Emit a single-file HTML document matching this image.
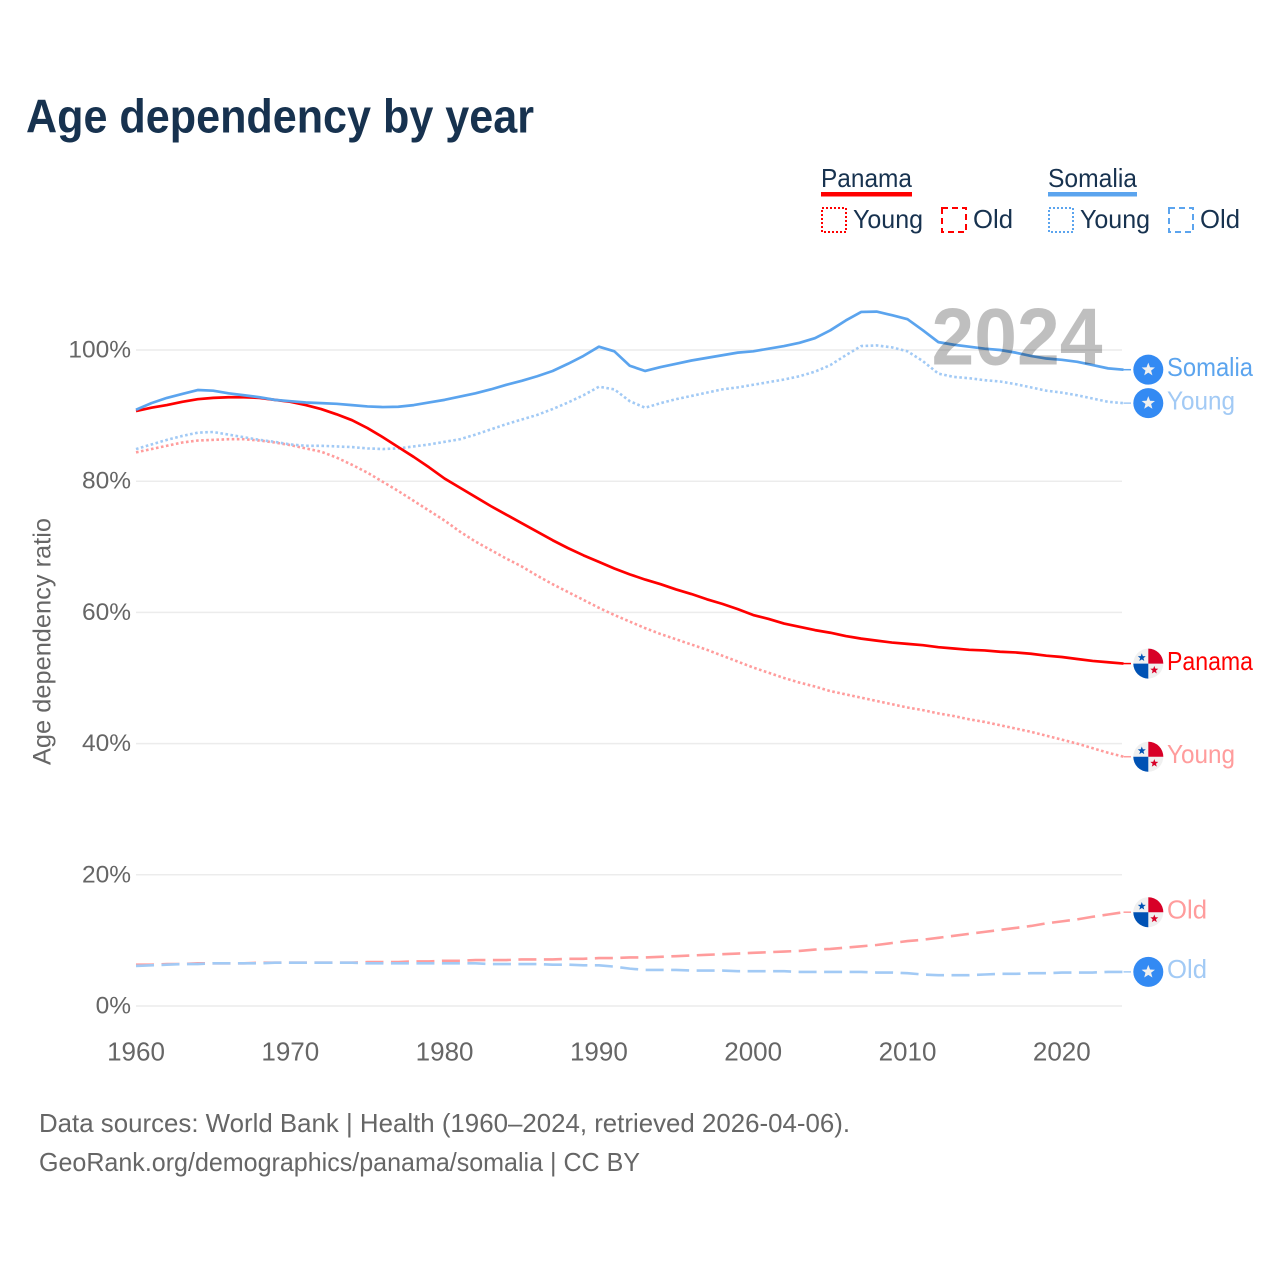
<!DOCTYPE html>
<html lang="en">
<head>
<meta charset="utf-8">
<title>Age dependency by year</title>
<style>
html,body{margin:0;padding:0;background:#fff;}
svg{display:block;font-family:"Liberation Sans",sans-serif;}
text{font-family:"Liberation Sans",sans-serif;}
</style>
</head>
<body>
<svg id="chart" width="1280" height="1280" viewBox="0 0 1280 1280" xmlns="http://www.w3.org/2000/svg">
  <rect width="1280" height="1280" fill="#ffffff"/>
  <text x="26" y="132.5" font-size="47" font-weight="700" fill="#17324f" textLength="508" lengthAdjust="spacingAndGlyphs">Age dependency by year</text>

  <g font-size="26" fill="#17324f">
    <text x="821" y="187" textLength="91" lengthAdjust="spacingAndGlyphs">Panama</text>
    <rect x="821" y="192" width="91" height="4.5" fill="#ff0000"/>
    <rect x="822" y="208" width="24" height="24" fill="none" stroke="#ff0000" stroke-width="2" stroke-dasharray="2 2"/>
    <text x="853" y="228" textLength="70" lengthAdjust="spacingAndGlyphs">Young</text>
    <rect x="942" y="208" width="24" height="24" fill="none" stroke="#ff0000" stroke-width="2" stroke-dasharray="6 4"/>
    <text x="973" y="228" textLength="40" lengthAdjust="spacingAndGlyphs">Old</text>
    <text x="1048" y="187" textLength="89" lengthAdjust="spacingAndGlyphs">Somalia</text>
    <rect x="1048" y="192" width="89" height="4.5" fill="#5ba4ee"/>
    <rect x="1049" y="208" width="24" height="24" fill="none" stroke="#5ba4ee" stroke-width="2" stroke-dasharray="2 2"/>
    <text x="1080" y="228" textLength="70" lengthAdjust="spacingAndGlyphs">Young</text>
    <rect x="1169" y="208" width="24" height="24" fill="none" stroke="#5ba4ee" stroke-width="2" stroke-dasharray="6 4"/>
    <text x="1200" y="228" textLength="40" lengthAdjust="spacingAndGlyphs">Old</text>
  </g>

  <g id="grid"></g>
  <g id="yticks" font-size="24.5" fill="#666666" text-anchor="end"></g>
  <g id="xticks" font-size="26" fill="#666666" text-anchor="middle"></g>
  <text transform="translate(50.5,641.5) rotate(-90)" font-size="25" fill="#666666" text-anchor="middle" textLength="247" lengthAdjust="spacingAndGlyphs">Age dependency ratio</text>

  <g id="series"></g>
  <text x="931.5" y="364.5" font-size="81" font-weight="700" fill="#000000" fill-opacity="0.25" textLength="171" lengthAdjust="spacingAndGlyphs">2024</text>
  <g id="ends"></g>

  <g font-size="26" fill="#666666">
    <text x="39" y="1132" textLength="811" lengthAdjust="spacingAndGlyphs">Data sources: World Bank | Health (1960–2024, retrieved 2026-04-06).</text>
    <text x="39" y="1171" textLength="601" lengthAdjust="spacingAndGlyphs">GeoRank.org/demographics/panama/somalia | CC BY</text>
  </g>
</svg>
<script>
const firstYear = 1960;
const xTicks = [1960, 1970, 1980, 1990, 2000, 2010, 2020];
const yTicks = [0, 20, 40, 60, 80, 100];

const panamaTotal = [
  90.7,91.2,91.6,92.1,92.5,92.7,92.8,92.8,92.7,92.4,
  92.1,91.6,91.0,90.2,89.3,88.1,86.7,85.2,83.7,82.1,
  80.4,79.0,77.6,76.2,74.9,73.6,72.3,71.0,69.8,68.7,
  67.7,66.7,65.8,65.0,64.3,63.5,62.8,62.0,61.3,60.5,
  59.6,59.0,58.3,57.8,57.3,56.9,56.4,56.0,55.7,55.4,
  55.2,55.0,54.7,54.5,54.3,54.2,54.0,53.9,53.7,53.4,
  53.2,52.9,52.6,52.4,52.2];
const panamaYoung = [
  84.4,84.9,85.4,85.9,86.2,86.3,86.4,86.4,86.2,85.9,
  85.5,85.0,84.5,83.6,82.5,81.3,79.9,78.5,77.0,75.5,
  74.0,72.3,70.8,69.5,68.2,67.0,65.6,64.3,63.1,61.9,
  60.7,59.6,58.6,57.6,56.7,55.9,55.1,54.3,53.4,52.5,
  51.6,50.8,50.0,49.3,48.7,48.0,47.5,47.0,46.5,46.0,
  45.5,45.1,44.6,44.2,43.7,43.3,42.8,42.3,41.8,41.2,
  40.6,40.0,39.3,38.6,38.0];
const panamaOld = [
  6.3,6.3,6.4,6.4,6.5,6.5,6.5,6.5,6.6,6.6,
  6.6,6.6,6.6,6.6,6.6,6.7,6.7,6.7,6.8,6.8,
  6.9,6.9,7.0,7.0,7.0,7.1,7.1,7.1,7.2,7.2,
  7.3,7.3,7.4,7.4,7.5,7.6,7.7,7.8,7.9,8.0,
  8.1,8.2,8.3,8.4,8.6,8.7,8.9,9.1,9.3,9.6,
  9.9,10.1,10.4,10.7,11.0,11.3,11.6,11.9,12.2,12.6,
  12.9,13.2,13.6,13.95,14.3];
const somaliaTotal = [
  90.9,91.9,92.7,93.3,93.9,93.8,93.4,93.1,92.8,92.4,
  92.2,92.0,91.9,91.8,91.6,91.4,91.3,91.35,91.6,92.0,
  92.4,92.9,93.4,94.0,94.7,95.3,96.0,96.8,97.9,99.1,
  100.5,99.8,97.6,96.8,97.4,97.9,98.4,98.8,99.2,99.6,
  99.8,100.2,100.6,101.1,101.8,103.0,104.5,105.8,105.85,105.3,
  104.7,103.0,101.2,100.8,100.5,100.2,100.0,99.6,99.1,98.7,
  98.5,98.2,97.7,97.2,97.0];
const somaliaYoung = [
  84.9,85.6,86.3,86.9,87.4,87.5,87.1,86.7,86.3,86.0,
  85.6,85.4,85.4,85.3,85.2,85.0,84.9,85.0,85.3,85.6,
  86.0,86.4,87.1,87.9,88.7,89.4,90.1,91.0,92.0,93.1,
  94.4,94.0,92.2,91.2,91.9,92.5,93.0,93.5,94.0,94.3,
  94.7,95.1,95.5,96.0,96.7,97.7,99.2,100.6,100.7,100.4,
  99.8,98.3,96.4,95.9,95.7,95.4,95.2,94.8,94.3,93.8,
  93.5,93.1,92.6,92.1,91.9];
const somaliaOld = [
  6.1,6.2,6.3,6.4,6.4,6.5,6.5,6.5,6.5,6.6,
  6.6,6.6,6.6,6.6,6.6,6.5,6.5,6.5,6.5,6.5,
  6.5,6.5,6.5,6.4,6.4,6.4,6.4,6.3,6.3,6.2,
  6.2,6.0,5.7,5.5,5.5,5.5,5.4,5.4,5.4,5.3,
  5.3,5.3,5.3,5.2,5.2,5.2,5.2,5.2,5.1,5.1,
  5.0,4.8,4.7,4.7,4.7,4.8,4.9,4.9,5.0,5.0,
  5.1,5.1,5.1,5.2,5.2];

const NS = 'http://www.w3.org/2000/svg';
function xScale(year) { return 136 + (year - firstYear) * 15.43; }
function yScale(pct) { return 1006 - pct * 6.56; }

const gridGroup = document.getElementById('grid');
const yTickGroup = document.getElementById('yticks');
yTicks.forEach(function (t) {
  const line = document.createElementNS(NS, 'line');
  line.setAttribute('x1', 136);
  line.setAttribute('x2', 1122);
  line.setAttribute('y1', yScale(t));
  line.setAttribute('y2', yScale(t));
  line.setAttribute('stroke', '#ececec');
  line.setAttribute('stroke-width', '1.5');
  
  
  gridGroup.appendChild(line);
  const label = document.createElementNS(NS, 'text');
  label.setAttribute('x', 131);
  label.setAttribute('y', yScale(t) + 7.5);
  label.textContent = t + '%';
  
  
  yTickGroup.appendChild(label);
});

const xTickGroup = document.getElementById('xticks');
xTicks.forEach(function (t) {
  const label = document.createElementNS(NS, 'text');
  label.setAttribute('x', xScale(t));
  label.setAttribute('y', 1060.5);
  label.textContent = t;
  
  
  xTickGroup.appendChild(label);
});

const seriesGroup = document.getElementById('series');
const endsGroup = document.getElementById('ends');

function drawLine(values, color, dash, slug, width) {
  const pts = values.map(function (v, i) {
    return xScale(firstYear + i).toFixed(2) + ',' + yScale(v).toFixed(2);
  }).join(' ');
  const line = document.createElementNS(NS, 'polyline');
  line.setAttribute('points', pts);
  line.setAttribute('fill', 'none');
  line.setAttribute('stroke', color);
  line.setAttribute('stroke-width', width);
  line.setAttribute('stroke-linejoin', 'round');
  if (dash) line.setAttribute('stroke-dasharray', dash);
  
  
  seriesGroup.appendChild(line);
}

function star(cx, cy, r, color) {
  const pts = [];
  for (let i = 0; i < 10; i++) {
    const rad = i % 2 ? r * 0.42 : r;
    const a = -Math.PI / 2 + i * Math.PI / 5;
    pts.push((cx + rad * Math.cos(a)).toFixed(2) + ',' + (cy + rad * Math.sin(a)).toFixed(2));
  }
  const p = document.createElementNS(NS, 'polygon');
  p.setAttribute('points', pts.join(' '));
  p.setAttribute('fill', color);
  return p;
}

function quadrant(g, d, color) {
  const p = document.createElementNS(NS, 'path');
  p.setAttribute('d', d);
  p.setAttribute('fill', color);
  g.appendChild(p);
}

function drawEnd(values, country, labelText, color, slug) {
  const last = values[values.length - 1];
  const lastX = xScale(firstYear + values.length - 1);
  const cy = yScale(last);
  const cx = 1148.3;

  const lead = document.createElementNS(NS, 'line');
  lead.setAttribute('x1', lastX);
  lead.setAttribute('x2', 1131);
  lead.setAttribute('y1', cy);
  lead.setAttribute('y2', cy);
  lead.setAttribute('stroke', color);
  lead.setAttribute('stroke-width', '1.5');
  
  
  endsGroup.appendChild(lead);

  const flag = document.createElementNS(NS, 'g');
  
  
  const r = 15;
  if (country === 'somalia') {
    const c = document.createElementNS(NS, 'circle');
    c.setAttribute('cx', cx);
    c.setAttribute('cy', cy);
    c.setAttribute('r', r);
    c.setAttribute('fill', '#338af3');
    flag.appendChild(c);
    flag.appendChild(star(cx, cy, 7, '#f0f0f0'));
  } else {
    const bg = document.createElementNS(NS, 'circle');
    bg.setAttribute('cx', cx);
    bg.setAttribute('cy', cy);
    bg.setAttribute('r', r);
    bg.setAttribute('fill', '#f0f0f0');
    flag.appendChild(bg);
    quadrant(flag, 'M' + cx + ' ' + cy + 'V' + (cy - r) + 'A' + r + ' ' + r + ' 0 0 1 ' + (cx + r) + ' ' + cy + 'Z', '#d80027');
    quadrant(flag, 'M' + cx + ' ' + cy + 'V' + (cy + r) + 'A' + r + ' ' + r + ' 0 0 1 ' + (cx - r) + ' ' + cy + 'Z', '#0052b4');
    flag.appendChild(star(cx - 6.5, cy - 6, 4.2, '#0052b4'));
    flag.appendChild(star(cx + 6, cy + 6.5, 4.2, '#d80027'));
  }
  endsGroup.appendChild(flag);

  const label = document.createElementNS(NS, 'text');
  label.setAttribute('x', 1167);
  label.setAttribute('y', cy + 6.3);
  label.setAttribute('font-size', '26');
  label.setAttribute('fill', color);
  label.setAttribute('textLength', labelText === 'Old' ? 40 : labelText === 'Young' ? 68 : 86);
  label.setAttribute('lengthAdjust', 'spacingAndGlyphs');
  label.textContent = labelText;
  
  
  endsGroup.appendChild(label);
}

const RED = '#ff0000', PINK = '#ff9c9c', BLUE = '#5ba4ee', PALE = '#a2caf5';
const DOT = '2.6 2.5', DASH = '18 7.5';

drawLine(panamaYoung, PINK, DOT, 'panama-young', 2.6);
drawLine(panamaOld, PINK, DASH, 'panama-old', 2.6);
drawLine(somaliaYoung, PALE, DOT, 'somalia-young', 2.6);
drawLine(somaliaOld, PALE, DASH, 'somalia-old', 2.6);
drawLine(panamaTotal, RED, null, 'panama-total', 2.7);
drawLine(somaliaTotal, BLUE, null, 'somalia-total', 2.7);

drawEnd(somaliaTotal, 'somalia', 'Somalia', BLUE, 'somalia-total');
drawEnd(somaliaYoung, 'somalia', 'Young', PALE, 'somalia-young');
drawEnd(panamaTotal, 'panama', 'Panama', RED, 'panama-total');
drawEnd(panamaYoung, 'panama', 'Young', PINK, 'panama-young');
drawEnd(panamaOld, 'panama', 'Old', PINK, 'panama-old');
drawEnd(somaliaOld, 'somalia', 'Old', PALE, 'somalia-old');
</script>
</body>
</html>
